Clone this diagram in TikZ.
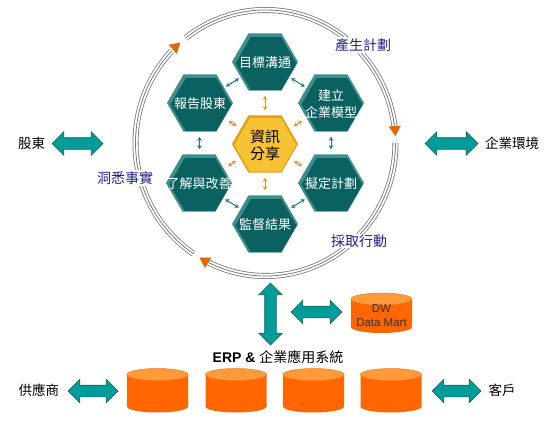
\documentclass[tikz,border=0pt]{standalone}
\usepackage{fontspec}
\setmainfont{Liberation Sans}
\newfontfamily\cjk{Noto Sans CJK TC}
\usetikzlibrary{shapes.geometric,shapes.arrows,arrows.meta}
\definecolor{hexdark}{HTML}{0B6160}
\definecolor{hexlight}{HTML}{3E8E8C}
\definecolor{goldfill}{HTML}{F7C234}
\definecolor{goldedge}{HTML}{E39B14}
\definecolor{tealarrow}{HTML}{009C9A}
\definecolor{tealedge}{HTML}{1F5E5E}
\definecolor{ringgray}{HTML}{7A7A7A}
\definecolor{tiporange}{HTML}{E06A00}
\definecolor{cylbody}{HTML}{FF6600}
\definecolor{cyltop}{HTML}{FF9A3C}
\definecolor{cyledge}{HTML}{F08020}
\definecolor{labelblue}{HTML}{22228C}
\definecolor{smallteal}{HTML}{1E7B7A}
\definecolor{smallorange}{HTML}{E8951E}
\tikzset{
  hexout/.style={regular polygon, regular polygon sides=6, minimum size=66pt, inner sep=0pt, fill=hexlight},
  hexin/.style={regular polygon, regular polygon sides=6, minimum size=61pt, inner sep=0pt, fill=hexdark},
  hextext/.style={text=white, font=\cjk\fontsize{13}{17}\selectfont, align=center, inner sep=0pt},
  ringA/.style={ringgray, line width=6pt},
  ringB/.style={white, line width=4.4pt},
  ringC/.style={ringgray, line width=0.8pt},
  ringtip/.style={tiporange, line width=0.1pt, -{Triangle[length=10pt,width=12pt]}},
  ringlabel/.style={fill=white, inner sep=1pt, text=labelblue, font=\cjk\fontsize{14}{16}\selectfont},
  smallarr/.style={smallteal, line width=1pt, {Stealth[length=4pt,width=4.5pt]}-{Stealth[length=4pt,width=4.5pt]}},
  orangearr/.style={smallorange, line width=1pt, {Stealth[length=4pt,width=4.5pt]}-{Stealth[length=4pt,width=4.5pt]}},
  bigarrow/.style={double arrow, fill=tealarrow, draw=tealedge, line width=0.6pt, double arrow head extend=6pt, inner sep=5.5pt, double arrow tip angle=90},
  cylframe/.style={inner sep=0pt, draw=none},
  sidelabel/.style={font=\cjk\fontsize{13.5}{16}\selectfont, text=black}
}
\newcommand\hexnode[4]{%
  \node[hexout] (#1) at (#2,#3) {};
  \node[hexin] (#1in) at (#2+1,#3+1.5) {};
  \node[hextext] (#1txt) at (#2,#3+1) {#4};
}
\newcommand\ringarc[2]{%
  \foreach \s in {ringA,ringB,ringC}{%
    \draw[\s] ([shift={(#1:130 and 133)}]265.5,143) arc[start angle=#1, end angle=#2, x radius=130, y radius=133];}%
}
\newcommand\ringtipat[2]{%
  \draw[ringtip] ([shift={(#1:130 and 133)}]265.5,143) arc[start angle=#1, end angle=#2, x radius=130, y radius=133];%
}
% name, cx, cy, width, height
\newcommand\cylnode[5]{%
  \node[cylframe, minimum width=#4pt, minimum height=#5pt] (#1) at (#2,#3) {};
  \fill[cylbody] (#2-#4/2,#3-#5/2+6) -- (#2-#4/2,#3+#5/2-6)
     arc[start angle=180, end angle=0, x radius=#4/2, y radius=6]
     -- (#2+#4/2,#3-#5/2+6) -- cycle;
  \filldraw[fill=cyltop, draw=cyledge, line width=0.5pt] (#2,#3-#5/2+6) ellipse [x radius=#4/2, y radius=6];
}
\begin{document}
\begin{tikzpicture}[x=1pt,y=-1pt]
\useasboundingbox (0,0) rectangle (550,423);
% ring (angles measured clockwise on screen, since y points down)
\ringarc{-128}{-7.5}
\ringtipat{-7.6}{-3}
\ringarc{0}{116}
\ringtipat{115.9}{120.5}
\ringarc{-236.4}{-136.4}
\ringtipat{-136.3}{-131}
\node[ringlabel] (lplan) at (363,45) {產生計劃};
\node[ringlabel] (lfact) at (125,178) {洞悉事實};
\node[ringlabel] (lact) at (359,241) {採取行動};
% hexagons
\hexnode{goal}{265}{62}{目標溝通}
\hexnode{rep}{200}{103}{報告股東}
\hexnode{model}{331}{103}{建立\\企業模型}
\hexnode{impr}{199}{183}{了解與改善}
\hexnode{plan}{331}{183}{擬定計劃}
\hexnode{mon}{265}{224}{監督結果}
% center
\node[regular polygon, regular polygon sides=6, minimum size=66pt, inner sep=0pt, fill=goldedge] (info) at (265,144) {};
\node[regular polygon, regular polygon sides=6, minimum size=62pt, inner sep=0pt, fill=goldfill] (infoin) at (265.3,144.8) {};
\node[font=\cjk\fontsize{15}{17}\selectfont, align=center, inner sep=0pt] (infotxt) at (265,145) {資訊\\分享};
% small teal arrows
\draw[smallarr, shorten <=2pt, shorten >=2pt] (rep) -- (goal);
\draw[smallarr, shorten <=2pt, shorten >=2pt] (goal) -- (model);
\draw[smallarr, shorten <=5pt, shorten >=5pt] (rep) -- (impr);
\draw[smallarr, shorten <=5pt, shorten >=5pt] (model) -- (plan);
\draw[smallarr, shorten <=2pt, shorten >=2pt] (impr) -- (mon);
\draw[smallarr, shorten <=2pt, shorten >=2pt] (plan) -- (mon);
% orange arrows
\foreach \t in {goal,rep,model,impr,plan,mon}{
  \draw[orangearr, shorten <=5pt, shorten >=5pt] (info) -- (\t);
}
% big arrows
\node[bigarrow, minimum height=51pt] (arrL) at (77.5,143.5) {};
\node[bigarrow, minimum height=53pt] (arrR) at (451.5,143.5) {};
\node[bigarrow, minimum height=62pt, shape border rotate=90] (arrV) at (270.5,314) {};
\node[bigarrow, minimum height=51pt] (arrDW) at (316.5,312) {};
\node[bigarrow, minimum height=50pt] (arrS) at (93,391) {};
\node[bigarrow, minimum height=49pt] (arrC) at (456.5,391) {};
% side labels
\node[sidelabel] (sh) at (31.5,143) {股東};
\node[sidelabel] (env) at (512,143) {企業環境};
\node[sidelabel] (sup) at (39,390) {供應商};
\node[sidelabel] (cust) at (502,390) {客戶};
% DW
\cylnode{dw}{381.5}{313}{61}{40}
\node[font=\fontsize{11.5}{14}\selectfont, text=black!80, align=center, inner sep=0pt] (dwtxt) at (381.5,316) {DW\\Data Mart};
% ERP
\node[inner sep=0pt, font=\fontsize{14}{16}\selectfont] (erp) at (278,357) {\bfseries ERP \&\ {\mdseries\cjk 企業應用系統}};
\cylnode{c1}{157.5}{390.5}{61}{44}
\cylnode{c2}{236}{390.5}{61}{44}
\cylnode{c3}{313.5}{390.5}{61}{44}
\cylnode{c4}{391}{390.5}{61}{44}
\end{tikzpicture}
\end{document}
